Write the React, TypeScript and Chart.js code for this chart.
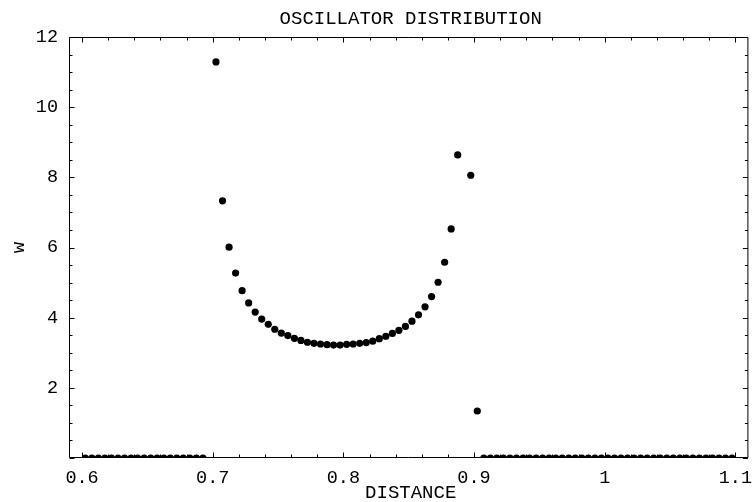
import React, { useEffect, useRef } from "react";
import { Chart, registerables } from "chart.js";

Chart.register(...registerables);

const TITLE = "OSCILLATOR DISTRIBUTION";
const X_TITLE = "DISTANCE";
const Y_TITLE = "w";

const distance = [
  0.6025, 0.6075, 0.6125, 0.6175, 0.6225, 0.6275, 0.6325, 0.6375, 0.6425, 0.6475,
  0.6525, 0.6575, 0.6625, 0.6675, 0.6725, 0.6775, 0.6825, 0.6875, 0.6925, 0.6975,
  0.7025, 0.7075, 0.7125, 0.7175, 0.7225, 0.7275, 0.7325, 0.7375, 0.7425, 0.7475,
  0.7525, 0.7575, 0.7625, 0.7675, 0.7725, 0.7775, 0.7825, 0.7875, 0.7925, 0.7975,
  0.8025, 0.8075, 0.8125, 0.8175, 0.8225, 0.8275, 0.8325, 0.8375, 0.8425, 0.8475,
  0.8525, 0.8575, 0.8625, 0.8675, 0.8725, 0.8775, 0.8825, 0.8875, 0.8925, 0.8975,
  0.9025, 0.9075, 0.9125, 0.9175, 0.9225, 0.9275, 0.9325, 0.9375, 0.9425, 0.9475,
  0.9525, 0.9575, 0.9625, 0.9675, 0.9725, 0.9775, 0.9825, 0.9875, 0.9925, 0.9975,
  1.0025, 1.0075, 1.0125, 1.0175, 1.0225, 1.0275, 1.0325, 1.0375, 1.0425, 1.0475,
  1.0525, 1.0575, 1.0625, 1.0675, 1.0725, 1.0775, 1.0825, 1.0875, 1.0925, 1.0975,
];

const w: (number | null)[] = [
  0, 0, 0, 0, 0, 0, 0, 0, 0, 0,
  0, 0, 0, 0, 0, 0, 0, 0, 0, null,
  11.29, 7.33, 6.01, 5.27, 4.77, 4.42, 4.16, 3.96, 3.81, 3.67,
  3.56, 3.49, 3.41, 3.35, 3.30, 3.27, 3.25, 3.23, 3.22, 3.22,
  3.24, 3.25, 3.27, 3.29, 3.33, 3.40, 3.47, 3.55, 3.64, 3.75,
  3.90, 4.08, 4.31, 4.60, 5.01, 5.58, 6.53, 8.64, null, 8.06,
  1.34, 0, 0, 0, 0, 0, 0, 0, 0, 0,
  0, 0, 0, 0, 0, 0, 0, 0, 0, 0,
  0, 0, 0, 0, 0, 0, 0, 0, 0, 0,
  0, 0, 0, 0, 0, 0, 0, 0, 0, 0,
];

const xTickValues = [0.6, 0.7, 0.8, 0.9, 1.0, 1.1];
const xTickLabels = ["0.6", "0.7", "0.8", "0.9", "1", "1.1"];
const yTickValues = [2, 4, 6, 8, 10, 12];
const yTickLabels = ["2", "4", "6", "8", "10", "12"];

const FONT = "'Liberation Mono', 'Courier New', monospace";
const TICK_SIZE = 18.5;
const TITLE_SIZE = 19;

const framePlugin = {
  id: "frame",
  afterDatasetsDraw(chart: any) {
    const { ctx, chartArea: a, scales } = chart;
    const x = scales.x;
    const y = scales.y;
    ctx.save();
    ctx.strokeStyle = "#000";
    ctx.lineWidth = 1;
    ctx.beginPath();
    const L = a.left + 0.5, R = a.right - 0.5, T = a.top + 0.5, B = a.bottom - 0.5;
    ctx.moveTo(L, T); ctx.lineTo(R, T); ctx.lineTo(R, B); ctx.lineTo(L, B); ctx.closePath();
    for (let i = 0; i <= 25; i++) {
      const v = 0.6 + i * 0.02;
      const major = i % 5 === 0;
      const len = major ? 5 : 3;
      const px = Math.round(x.getPixelForValue(v)) + 0.5;
      ctx.moveTo(px, B); ctx.lineTo(px, B - len);
      ctx.moveTo(px, T); ctx.lineTo(px, T + len);
    }
    for (let i = 0; i <= 24; i++) {
      const v = i * 0.5;
      const major = i % 4 === 0;
      const len = major ? 5 : 3;
      const py = Math.round(y.getPixelForValue(v)) + 0.5;
      ctx.moveTo(L, py); ctx.lineTo(L + len, py);
      ctx.moveTo(R, py); ctx.lineTo(R - len, py);
    }
    ctx.stroke();

    ctx.fillStyle = "#000";
    ctx.font = `${TITLE_SIZE}px ${FONT}`;
    ctx.textAlign = "center";
    ctx.textBaseline = "alphabetic";
    const cx = (a.left + a.right) / 2 + 2;
    ctx.fillText(TITLE, cx, 24);
    ctx.fillText(X_TITLE, cx, 498);
    ctx.translate(19, (a.top + a.bottom) / 2);
    ctx.rotate(-Math.PI / 2);
    ctx.textBaseline = "middle";
    ctx.fillText(Y_TITLE, 0, 0);
    ctx.restore();
  },
};

export default function App() {
  const ref = useRef<HTMLCanvasElement | null>(null);
  useEffect(() => {
    document.body.style.margin = "0";
    const canvas = ref.current;
    if (!canvas) return;
    const chart = new Chart(canvas, {
      type: "scatter",
      data: {
        datasets: [
          {
            data: distance.map((d, i) => ({ x: d, y: w[i] as any })),
            pointRadius: 3.6,
            pointHoverRadius: 3.6,
            pointBackgroundColor: "#000",
            pointBorderWidth: 0,
            borderWidth: 0,
            showLine: false,
            clip: 0 as any,
          },
        ],
      },
      options: {
        animation: false,
        responsive: false,
        devicePixelRatio: 1,
        layout: { padding: { top: 37, right: 1, left: 0, bottom: 0 } },
        plugins: {
          legend: { display: false },
          tooltip: { enabled: false },
          title: { display: false },
        },
        scales: {
          x: {
            type: "linear",
            min: 0.59,
            max: 1.11,
            grid: { display: false, drawTicks: false },
            border: { display: false },
            afterBuildTicks: (s: any) => {
              s.ticks = xTickValues.map((v) => ({ value: v }));
            },
            afterFit: (s: any) => {
              s.height = 44;
              s.paddingLeft = 0;
              s.paddingRight = 0;
            },
            ticks: {
              color: "#000",
              font: { family: FONT, size: TICK_SIZE },
              padding: 9,
              maxRotation: 0,
              autoSkip: false,
              callback: (v: any) => {
                const i = xTickValues.findIndex((t) => Math.abs(t - v) < 1e-9);
                return i >= 0 ? xTickLabels[i] : "";
              },
            },
          },
          y: {
            type: "linear",
            min: 0,
            max: 12,
            grid: { display: false, drawTicks: false },
            border: { display: false },
            afterBuildTicks: (s: any) => {
              s.ticks = yTickValues.map((v) => ({ value: v }));
            },
            afterFit: (s: any) => {
              s.width = 69;
              s.paddingTop = 0;
              s.paddingBottom = 0;
            },
            ticks: {
              color: "#000",
              font: { family: FONT, size: TICK_SIZE },
              padding: 11,
              autoSkip: false,
              callback: (v: any) => {
                const i = yTickValues.findIndex((t) => Math.abs(t - v) < 1e-9);
                return i >= 0 ? yTickLabels[i] : "";
              },
            },
          },
        },
      },
      plugins: [framePlugin],
    });
    return () => chart.destroy();
  }, []);
  return (
    <div style={{ position: "fixed", left: 0, top: 0, width: 752, height: 502, background: "#fff" }}>
      <canvas ref={ref} width={752} height={502} style={{ display: "block" }} />
    </div>
  );
}
